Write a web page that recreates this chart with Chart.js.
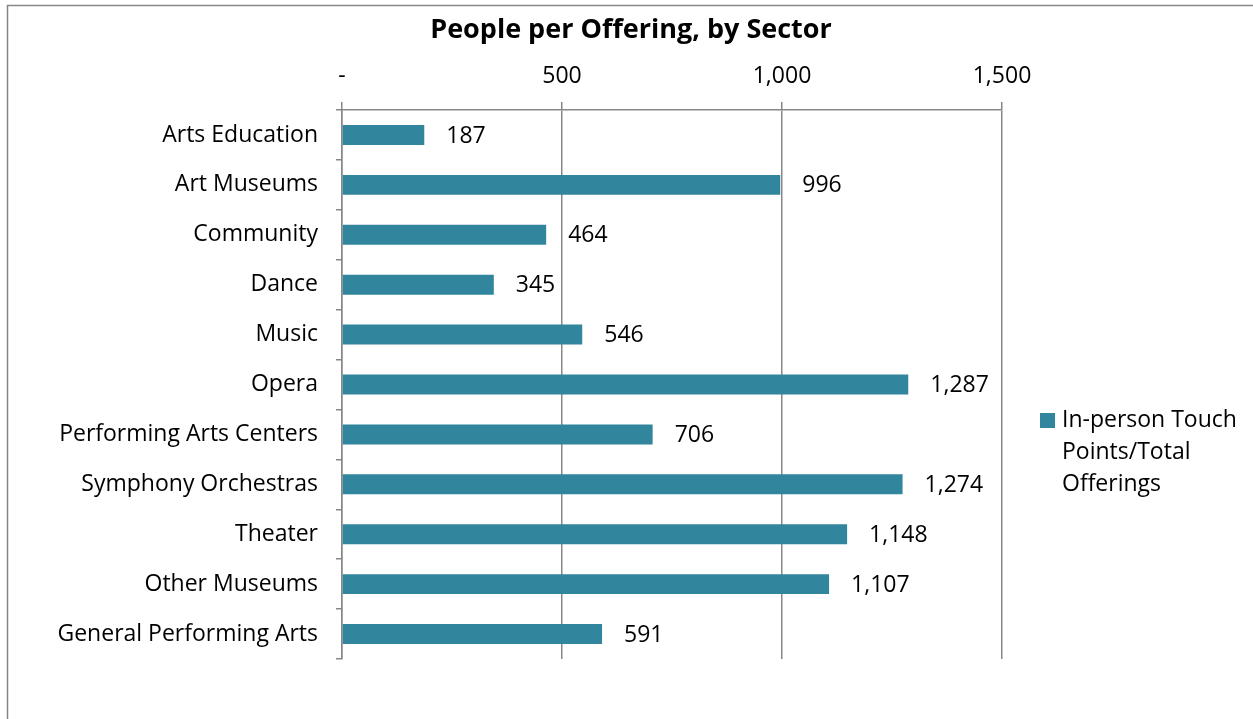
<!DOCTYPE html>
<html>
<head>
<meta charset="utf-8">
<title>People per Offering, by Sector</title>
<script src="https://cdn.jsdelivr.net/npm/chart.js@4/dist/chart.umd.min.js"></script>
<style>
    html, body { margin: 0; padding: 0; background: #fff; }
    #wrap { position: relative; width: 1253px; height: 719px; }
</style>
</head>
<body>
<div id="wrap"><canvas id="sectorChart"></canvas></div>
<script>
// セクター別データ
const sectors = [
    'Arts Education', 'Art Museums', 'Community', 'Dance', 'Music', 'Opera',
    'Performing Arts Centers', 'Symphony Orchestras', 'Theater', 'Other Museums',
    'General Performing Arts'
];
const peoplePerOffering = [187, 996, 464, 345, 546, 1287, 706, 1274, 1148, 1107, 591];
const chartTitle = 'People per Offering, by Sector';
const seriesLabel = 'In-person Touch Points/Total Offerings';
const legendLines = ['In-person Touch', 'Points/Total', 'Offerings'];
const axisMin = 0;
const axisMax = 1500;
const axisStep = 500;

const FONT = "'Open Sans', 'DejaVu Sans', sans-serif";
const BAR_COLOR = '#31859C';
const LINE_COLOR = '#878787';

// 枠線・タイトル・値ラベル・凡例を描くプラグイン
const decorPlugin = {
    id: 'decor',
    beforeDraw(chart) {
        const ctx = chart.ctx;
        ctx.save();
        ctx.strokeStyle = LINE_COLOR;
        ctx.lineWidth = 1.5;
        ctx.strokeRect(7.5, 5.5, chart.width + 20, chart.height + 20);

        // タイトル（キャンバス全体の中央）
        ctx.font = 'bold 27px ' + FONT;
        ctx.fillStyle = '#000';
        ctx.textAlign = 'center';
        ctx.textBaseline = 'middle';
        ctx.fillText(chartTitle, 631, 30);
        ctx.restore();
    },
    afterDatasetsDraw(chart) {
        const ctx = chart.ctx;
        const meta = chart.getDatasetMeta(0);
        ctx.save();
        ctx.font = '23px ' + FONT;
        ctx.fillStyle = '#000';
        ctx.textBaseline = 'middle';
        ctx.textAlign = 'left';
        meta.data.forEach((bar, i) => {
            const v = chart.data.datasets[0].data[i];
            ctx.fillText(v.toLocaleString('en-US'), bar.x + 22, bar.y + 1);
        });

        // 凡例
        const ds = chart.data.datasets[0];
        ctx.fillStyle = ds.backgroundColor;
        ctx.fillRect(1040, 413, 15, 15);
        ctx.fillStyle = '#000';
        legendLines.forEach((line, i) => {
            ctx.fillText(line, 1062, 420 + i * 32);
        });
        ctx.restore();
    }
};

const ctx = document.getElementById('sectorChart').getContext('2d');
const sectorChart = new Chart(ctx, {
    type: 'bar',
    data: {
        labels: sectors,
        datasets: [{
            label: seriesLabel,
            data: peoplePerOffering,
            backgroundColor: BAR_COLOR,
            borderWidth: 0,
            categoryPercentage: 1.0,
            barPercentage: 0.4
        }]
    },
    options: {
        indexAxis: 'y',
        responsive: true,
        maintainAspectRatio: false,
        animation: false,
        layout: {
            padding: { left: 20, right: 251, top: 50, bottom: 60 }
        },
        scales: {
            x: {
                position: 'top',
                min: axisMin,
                max: axisMax,
                afterFit(scale) { scale.height = 60; },
                ticks: {
                    stepSize: axisStep,
                    color: '#000',
                    padding: 12,
                    font: { family: FONT, size: 23 },
                    callback: (value) => value === 0 ? '-' : value.toLocaleString('en-US')
                },
                grid: {
                    color: LINE_COLOR,
                    lineWidth: 1.5,
                    tickLength: 8
                },
                border: { display: true, color: LINE_COLOR, width: 1.5 }
            },
            y: {
                afterFit(scale) { scale.width = 342 - 20; },
                ticks: {
                    color: '#000',
                    padding: 18,
                    font: { family: FONT, size: 23 }
                },
                grid: {
                    offset: true,
                    drawOnChartArea: false,
                    color: LINE_COLOR,
                    lineWidth: 1.5,
                    tickLength: 6
                },
                border: { display: true, color: LINE_COLOR, width: 1.5 }
            }
        },
        plugins: {
            legend: { display: false },
            tooltip: { enabled: false },
            title: { display: false }
        }
    },
    plugins: [decorPlugin]
});
</script>
</body>
</html>
